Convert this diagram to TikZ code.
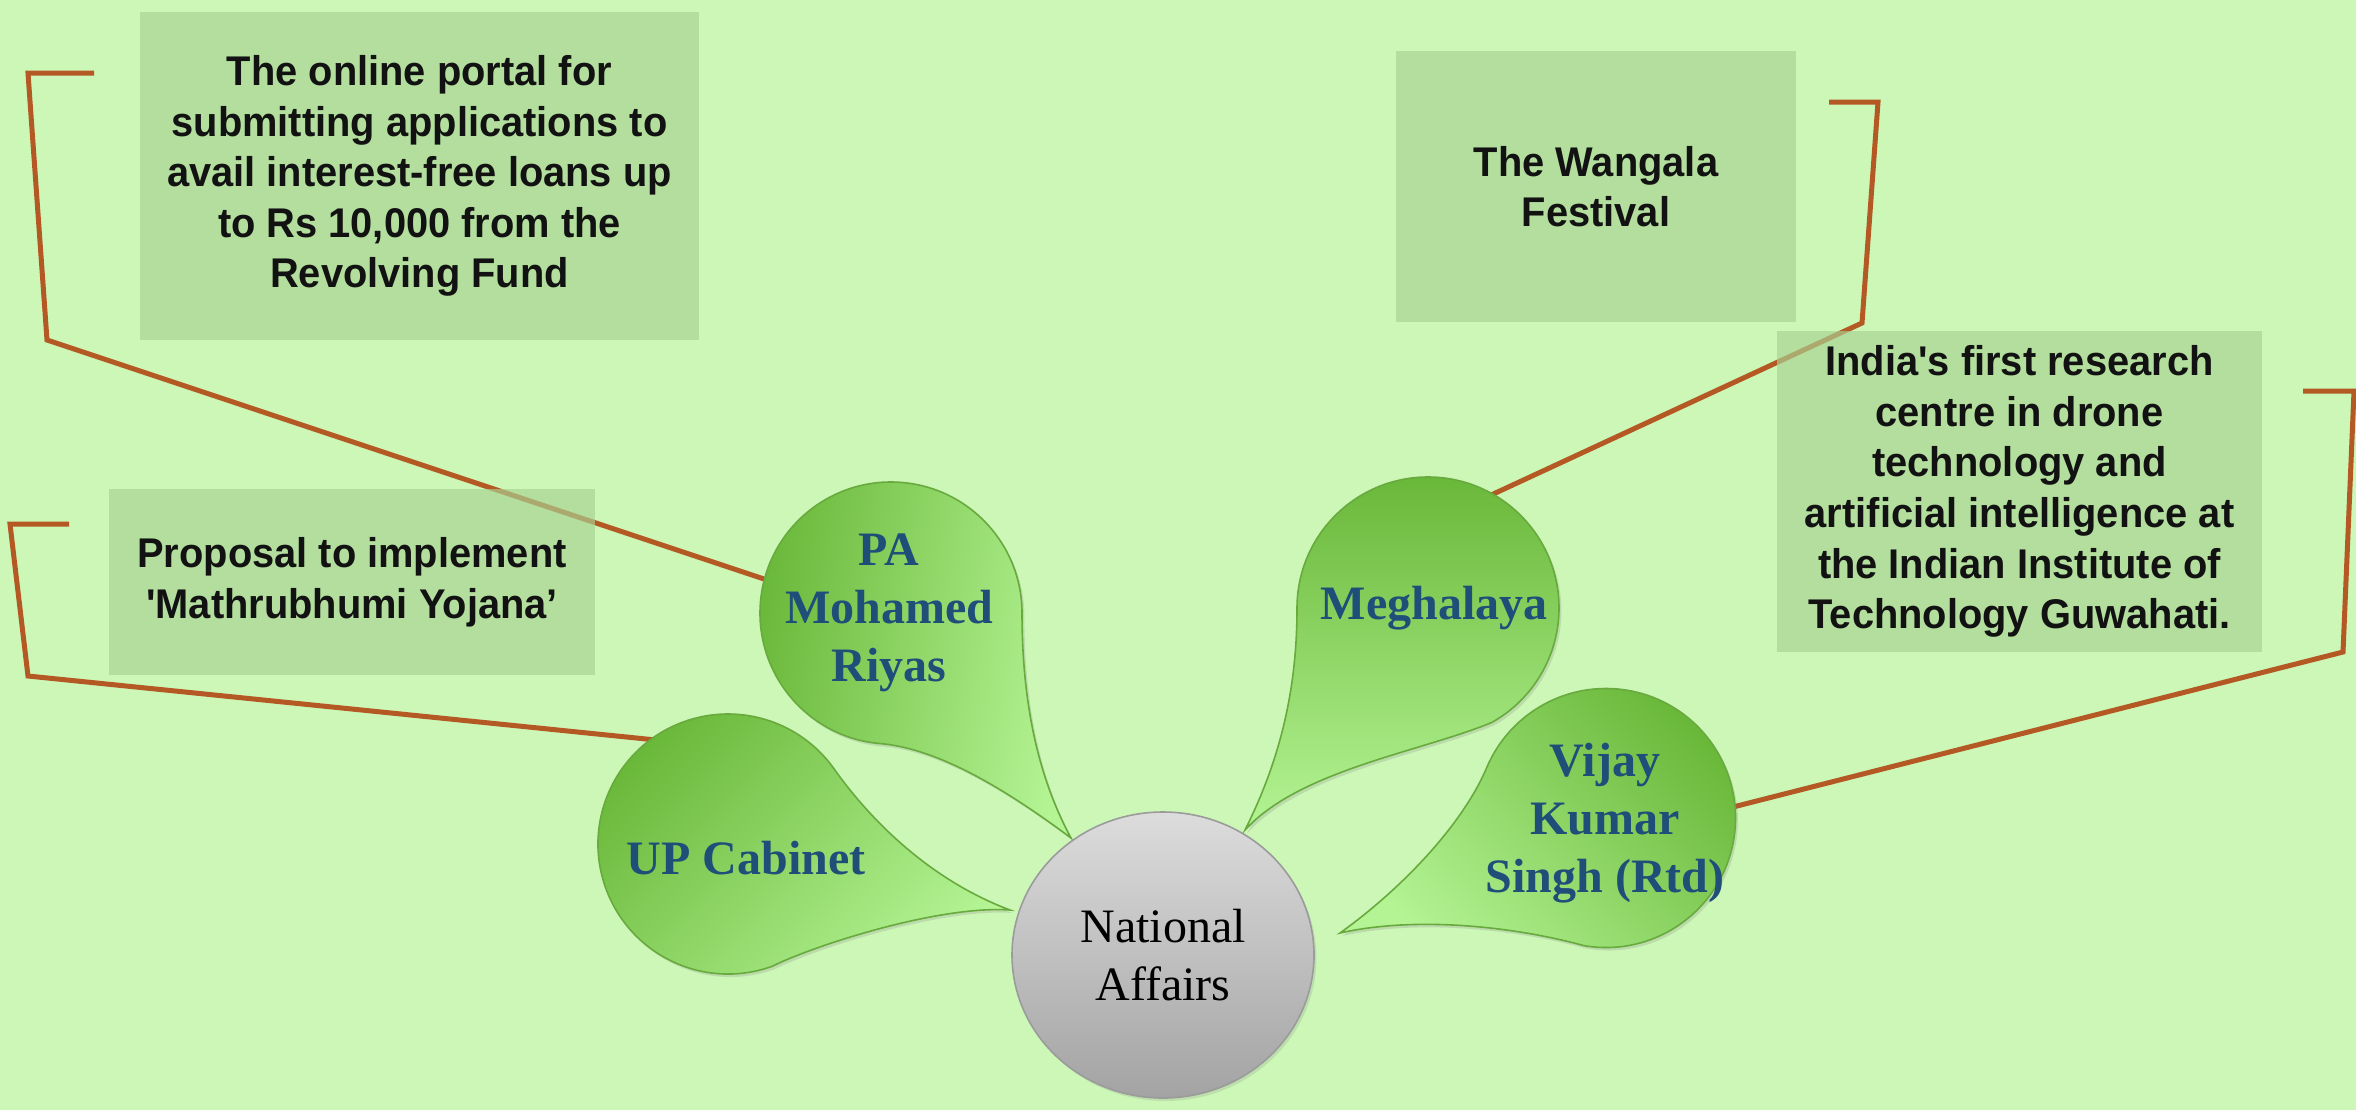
\documentclass[tikz,border=0pt]{standalone}
\usepackage{fontspec}
\setmainfont{Liberation Serif}
\newfontfamily\boxfont[FakeStretch=0.96]{Liberation Sans}
\usetikzlibrary{shapes.geometric,shadows}
\definecolor{bg}{RGB}{204,247,183}
\definecolor{boxfill}{RGB}{168,210,146}
\definecolor{conncol}{RGB}{180,88,36}
\definecolor{leafdark}{RGB}{106,184,58}
\definecolor{leaflight}{RGB}{180,244,148}
\definecolor{leafedge}{RGB}{104,170,62}
\definecolor{nametext}{RGB}{31,78,121}
\definecolor{hubtop}{RGB}{220,220,220}
\definecolor{hubbot}{RGB}{163,163,163}
\definecolor{hubedge}{RGB}{155,155,155}
\begin{document}
\begin{tikzpicture}[x=0.5pt,y=-0.5pt,
 conn/.style={draw=conncol, line width=2.5pt},
 infobox/.style={rectangle, fill=boxfill, fill opacity=0.67, text opacity=1, draw=none, align=center, text=black!93, font=\boxfont\bfseries\fontsize{20.75}{25.3}\selectfont, inner sep=0pt},
 leaf/.style={draw=leafedge, line width=0.8pt, top color=leafdark, bottom color=leaflight,
   drop shadow={opacity=0.22, shadow xshift=1.2pt, shadow yshift=-1.5pt}},
 leaftext/.style={align=center, text=nametext, font=\bfseries\fontsize{24}{29}\selectfont, inner sep=0pt},
 hub/.style={ellipse, draw=hubedge, line width=0.8pt, top color=hubtop, bottom color=hubbot,
   minimum width=151pt, minimum height=143pt, inner sep=0pt, align=center,
   font=\fontsize{24}{29}\selectfont, text=black},
]
% background
\fill[bg] (0,0) rectangle (2356,1110);
\useasboundingbox (0,0) rectangle (2356,1110);

% connector coordinates
\coordinate (a1) at (94,73);
\coordinate (a2) at (28,73);
\coordinate (a3) at (47,340);
\coordinate (a4) at (770,581);
\coordinate (b1) at (69,524);
\coordinate (b2) at (10,524);
\coordinate (b3) at (28,676);
\coordinate (b4) at (656,740);
\coordinate (c1) at (1829,102);
\coordinate (c2) at (1878,102);
\coordinate (c3) at (1862,323);
\coordinate (c4) at (1489,496);
\coordinate (d1) at (2303,391);
\coordinate (d2) at (2354,391);
\coordinate (d3) at (2343,652);
\coordinate (d4) at (1733,807);

% connectors
\draw[conn] (a1) -- (a2) -- (a3) -- (a4);
\draw[conn] (b1) -- (b2) -- (b3) -- (b4);
\draw[conn] (c1) -- (c2) -- (c3) -- (c4);
\draw[conn] (d1) -- (d2) -- (d3) -- (d4);

% info boxes
\node[infobox, minimum width=279.5pt, minimum height=164pt] (portal) at (419.5,176)
  {The online portal for\\submitting applications to\\avail interest-free loans up\\to Rs 10,000 from the\\Revolving Fund};
\node[infobox, minimum width=243pt, minimum height=93pt] (proposal) at (352,582)
  {Proposal to implement\\'Mathrubhumi Yojana’};
\node[infobox, minimum width=200pt, minimum height=135.5pt] (wangala) at (1596,186.5)
  {The Wangala\\Festival};
\node[infobox, minimum width=242.5pt, minimum height=160.5pt] (drone) at (2019.5,491.5)
  {India's first research\\centre in drone\\technology and\\artificial intelligence at\\the Indian Institute of\\Technology Guwahati.};

% balloons
\path[leaf, shading angle=80] (891,613) ++(95:131) arc[start angle=95, end angle=360, radius=131]
  .. controls (1022,720) and (1045,790) .. (1071,838)
  .. controls (1000,785) and (935,748) .. cycle;
\path[leaf, shading angle=45] (728,844) ++(70:130) arc[start angle=70, end angle=324, radius=130]
  .. controls (870,820) and (930,880) .. (1010,910)
  .. controls (940,905) and (815,945) .. cycle;
\path[leaf, shading angle=0] (1428,608) ++(180:131) arc[start angle=180, end angle=421, radius=131]
  .. controls (1420,752) and (1300,770) .. (1245,830)
  .. controls (1280,760) and (1297,690) .. cycle;
\path[leaf, shading angle=-45] (1606,818) ++(100:129.5) arc[start angle=100, end angle=-157, radius=129.5]
  .. controls (1462,826) and (1400,890) .. (1340,933)
  .. controls (1420,915) and (1520,928) .. cycle;

\node[leaftext] (pa) at (889,613) {PA\\Mohamed\\Riyas};
\node[leaftext] (up) at (746,858) {UP Cabinet};
\node[leaftext] (meg) at (1434,608) {Meghalaya};
\node[leaftext] (vks) at (1605,823) {Vijay\\Kumar\\Singh (Rtd)};

% hub
\node[hub, drop shadow={opacity=0.2, shadow xshift=1.2pt, shadow yshift=-1.5pt}] (hubnode) at (1163,955) {National\\Affairs};
\end{tikzpicture}
\end{document}
